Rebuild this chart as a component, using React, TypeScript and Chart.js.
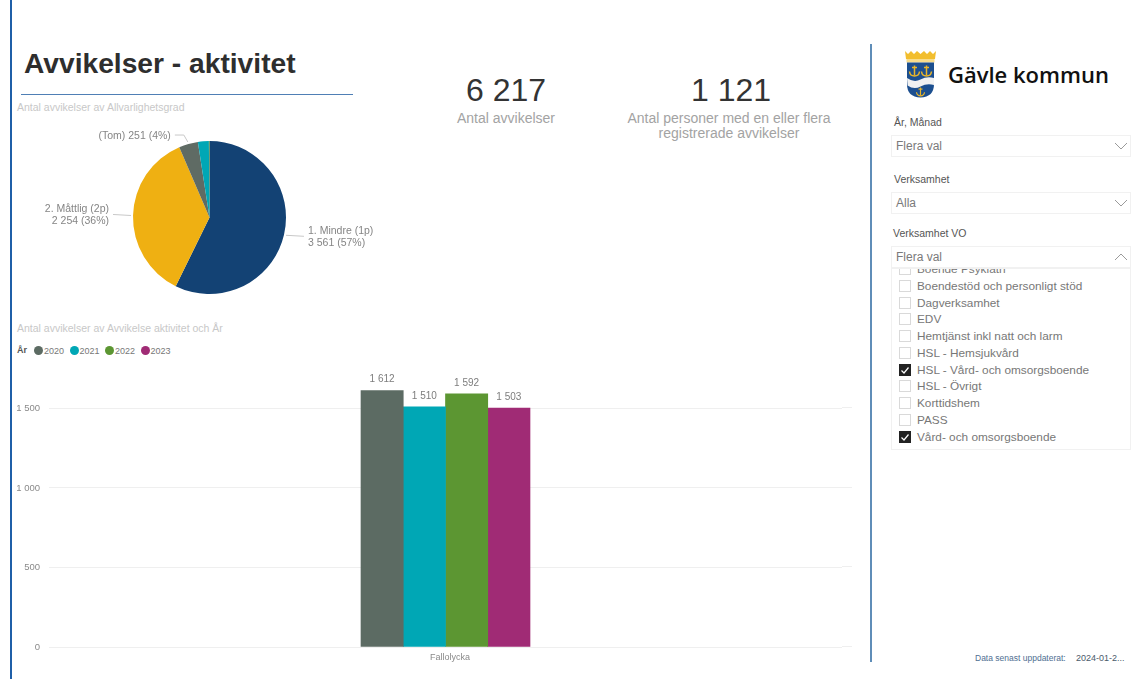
import React, { useEffect, useRef } from "react";
import { Chart, registerables } from "chart.js";

Chart.register(...registerables);

// Severity breakdown
const severityNames = ["1. Mindre (1p)", "2. Måttlig (2p)", "(Tom)", "", ""];
const severityValues = [3561, 2254, 251, 143, 8];
const severityColors = ["#134274", "#EFB012", "#5F6B64", "#00A7B5", "#5C9632"];

// Activity per year
const activityCategories = ["Fallolycka"];
const years = ["2020", "2021", "2022", "2023"];
const values2020 = [1612];
const values2021 = [1510];
const values2022 = [1592];
const values2023 = [1503];
const yearValues = [values2020, values2021, values2022, values2023];
const yearColors = ["#5C6B63", "#00A7B5", "#5C9632", "#A02B75"];
const yTicks = [0, 500, 1000, 1500];

// Slicer content
const unitRows = [
  "Boende Psykiatri",
  "Boendestöd och personligt stöd",
  "Dagverksamhet",
  "EDV",
  "Hemtjänst inkl natt och larm",
  "HSL - Hemsjukvård",
  "HSL - Vård- och omsorgsboende",
  "HSL - Övrigt",
  "Korttidshem",
  "PASS",
  "Vård- och omsorgsboende",
];
const checkedRows = ["HSL - Vård- och omsorgsboende", "Vård- och omsorgsboende"];

const SANS = '"Liberation Sans", Arial, sans-serif';
const spaced = (v: number) => String(v).replace(/\B(?=(\d{3})+$)/g, " ");

// Outside labels with elbow leader lines, anchored on each slice's mid angle
const pieLabels = {
  id: "pieLabels",
  afterDatasetsDraw(chart: any) {
    const { ctx } = chart;
    const meta = chart.getDatasetMeta(0);
    const total = severityValues.reduce((a, b) => a + b, 0);
    ctx.save();
    ctx.font = `10.5px ${SANS}`;
    ctx.textBaseline = "middle";
    meta.data.forEach((arc: any, i: number) => {
      const name = severityNames[i];
      if (!name) return;
      const mid = (arc.startAngle + arc.endAngle) / 2;
      const sx = arc.x + (arc.outerRadius + 2) * Math.cos(mid);
      const sy = arc.y + (arc.outerRadius + 2) * Math.sin(mid);
      const right = Math.cos(mid) > 0;
      const steep = Math.abs(Math.sin(mid)) > 0.9;
      const ex = steep ? sx - 13 : sx + (right ? 18 : -18);
      const ey = steep ? sy - 7 : sy + (right ? 1 : -1);
      ctx.strokeStyle = "#c8c8c8";
      ctx.lineWidth = 1;
      ctx.beginPath();
      ctx.moveTo(sx, sy);
      if (steep) ctx.lineTo(sx - 4, ey);
      ctx.lineTo(ex, ey);
      ctx.stroke();
      const pct = `${spaced(severityValues[i])} (${Math.round((severityValues[i] / total) * 100)}%)`;
      ctx.fillStyle = "#858585";
      ctx.textAlign = right ? "left" : "right";
      const tx = ex + (right ? 4 : -4);
      if (steep) {
        ctx.fillText(`${name} ${pct}`, tx, ey + 1);
      } else {
        ctx.fillText(name, tx, ey - 5);
        ctx.fillText(pct, tx, ey + 7);
      }
    });
    ctx.restore();
  },
};

// Value captions above the bars, plus the short run of gridline past the plot's right edge
const barLabels = {
  id: "barLabels",
  afterDatasetsDraw(chart: any) {
    const { ctx, chartArea, scales } = chart;
    ctx.save();
    ctx.strokeStyle = "#efefef";
    ctx.lineWidth = 1;
    yTicks.forEach((t) => {
      const y = Math.round(scales.y.getPixelForValue(t)) - 0.5;
      ctx.beginPath();
      ctx.moveTo(chartArea.right, y);
      ctx.lineTo(chartArea.right + 10, y);
      ctx.stroke();
    });
    ctx.font = `10px ${SANS}`;
    ctx.fillStyle = "#7d7d7d";
    ctx.textAlign = "center";
    ctx.textBaseline = "middle";
    chart.data.datasets.forEach((ds: any, i: number) => {
      chart.getDatasetMeta(i).data.forEach((bar: any, j: number) => {
        ctx.fillText(spaced(ds.data[j]), bar.x, bar.y - 11);
      });
    });
    ctx.restore();
  },
};

function PieCard() {
  const ref = useRef<HTMLCanvasElement>(null);
  useEffect(() => {
    const chart = new Chart(ref.current!, {
      type: "pie",
      data: {
        labels: severityNames,
        datasets: [{ data: severityValues, backgroundColor: severityColors, borderWidth: 0 }],
      },
      options: {
        animation: false,
        responsive: false,
        layout: { padding: { top: 21, bottom: 21, left: 80, right: 80 } },
        plugins: { legend: { display: false }, tooltip: { enabled: false } },
      },
      plugins: [pieLabels],
    } as any);
    return () => chart.destroy();
  }, []);
  return <canvas ref={ref} width={399} height={195} style={{ position: "absolute", left: 10, top: 120 }} />;
}

function BarCard() {
  const ref = useRef<HTMLCanvasElement>(null);
  useEffect(() => {
    const chart = new Chart(ref.current!, {
      type: "bar",
      data: {
        labels: activityCategories,
        datasets: years.map((y, i) => ({
          label: y,
          data: yearValues[i],
          backgroundColor: yearColors[i],
          barThickness: 42.25,
        })),
      },
      options: {
        animation: false,
        responsive: false,
        layout: { padding: { top: 2, right: 28, left: 0, bottom: 0 } },
        scales: {
          x: {
            grid: { display: false, drawTicks: false },
            border: { display: false },
            ticks: { color: "#8a8a8a", font: { size: 9, family: SANS }, padding: 5, labelOffset: 4.5, maxRotation: 0 },
            afterFit: (s: any) => { s.height = 32; },
          },
          y: {
            min: 0,
            max: 1750,
            afterBuildTicks: (s: any) => { s.ticks = yTicks.map((value) => ({ value })); },
            grid: { color: "#efefef", drawTicks: false },
            border: { display: false },
            ticks: {
              color: "#8a8a8a",
              font: { size: 9.5, family: SANS },
              padding: 9,
              callback: (v: any) => spaced(Number(v)),
            },
            afterFit: (s: any) => { s.width = 49; },
          },
        },
        plugins: { legend: { display: false }, tooltip: { enabled: false } },
      },
      plugins: [barLabels],
    } as any);
    return () => chart.destroy();
  }, []);
  return <canvas ref={ref} width={870} height={325} style={{ position: "absolute", left: 0, top: 354 }} />;
}

function Txt(p: {
  x: number; y: number; size: number; color: string; children: React.ReactNode;
  align?: "left" | "center" | "right"; weight?: number; family?: string;
}) {
  const align = p.align ?? "left";
  const shift = align === "center" ? "translateX(-50%)" : align === "right" ? "translateX(-100%)" : undefined;
  return (
    <div style={{
      position: "absolute", left: p.x, top: p.y - 10, height: 20, lineHeight: "20px",
      fontSize: p.size, color: p.color, fontWeight: p.weight ?? 400, fontFamily: p.family ?? SANS,
      whiteSpace: "nowrap", transform: shift,
    }}>{p.children}</div>
  );
}

function Rect(p: { x: number; y: number; w: number; h: number; bg?: string; border?: string }) {
  return (
    <div style={{
      position: "absolute", left: p.x, top: p.y, width: p.w, height: p.h, boxSizing: "border-box",
      background: p.bg, border: p.border ? `1px solid ${p.border}` : undefined,
    }} />
  );
}

function Dropdown({ y, text, open }: { y: number; text: string; open?: boolean }) {
  const pts = open ? "0,6 6,0 12,6" : "0,0 6,6 12,0";
  return (
    <>
      <Rect x={891} y={y} w={240} h={22} bg="#fff" border="#f1f1f1" />
      <Txt x={896} y={y + 11} size={12} color="#7a7a7a">{text}</Txt>
      <svg width={13} height={8} style={{ position: "absolute", left: 1115, top: y + 8 }}>
        <polyline points={pts} fill="none" stroke="#9a9a9a" strokeWidth={1} />
      </svg>
    </>
  );
}

function Crest() {
  const anchor = (x: number, y: number, s: number) => (
    <g transform={`translate(${x} ${y}) scale(${s})`} stroke="#E9B52A" strokeWidth={1.5} fill="none">
      <line x1={0} y1={-5} x2={0} y2={5} />
      <line x1={-2.5} y1={-3} x2={2.5} y2={-3} />
      <path d="M-5 1 Q-4.5 5.5 0 5.5 Q4.5 5.5 5 1" />
    </g>
  );
  return (
    <svg width={31} height={48} viewBox="0 0 31 48" style={{ position: "absolute", left: 905, top: 50 }}>
      <path d="M0 1 L3 4 L6 1 L9 4 L12 1 L15.5 4 L19 1 L22 4 L25 1 L28 4 L31 1 L30 9 L1 9 Z" fill="#F2BE2E" />
      <rect x={1.5} y={9} width={28} height={3.5} fill="#F7DC8C" />
      <path d="M2 12.5 H29 V34 Q29 47 15.5 47.5 Q2 47 2 34 Z" fill="#1C4F8F" />
      <path d="M2 28 Q9 33 15.5 29.5 Q22 26 29 28 V35 Q22 33 15.5 36.5 Q9 40 2.6 35.5 Z" fill="#F1F1F1" />
      {anchor(9.5, 20.5, 1)}
      {anchor(21.5, 20.5, 1)}
      {anchor(15.5, 41.5, 0.8)}
    </svg>
  );
}

export default function App() {
  return (
    <div style={{ position: "absolute", left: 0, top: 0, width: 1131, height: 679, background: "#fff", overflow: "hidden", fontFamily: SANS }}>
      <Rect x={10} y={0} w={1.5} h={679} bg="#1F5FA8" />
      <Rect x={870} y={44} w={1.5} h={618} bg="#5F8DB8" />

      <Txt x={24} y={63} size={28.2} weight={700} color="#2e2e2e">Avvikelser - aktivitet</Txt>
      <Rect x={21} y={94} w={332} h={1} bg="#4F7FB5" />

      <Txt x={17} y={107} size={10.5} color="#c8c8c8">Antal avvikelser av Allvarlighetsgrad</Txt>
      <PieCard />

      <Txt x={506} y={90} size={32} align="center" color="#333">6 217</Txt>
      <Txt x={506} y={118} size={14} align="center" color="#a3a3a3">Antal avvikelser</Txt>
      <Txt x={731} y={90} size={32} align="center" color="#333">1 121</Txt>
      <Txt x={729} y={118} size={14} align="center" color="#a3a3a3">Antal personer med en eller flera</Txt>
      <Txt x={729} y={133} size={14} align="center" color="#a3a3a3">registrerade avvikelser</Txt>

      <Txt x={17} y={328} size={10.5} color="#c8c8c8">Antal avvikelser av Avvikelse aktivitet och År</Txt>
      <Txt x={17} y={350} size={9} weight={700} color="#555">År</Txt>
      {years.map((y, i) => (
        <React.Fragment key={y}>
          <div style={{ position: "absolute", left: 34 + i * 35.5, top: 346, width: 9, height: 9, borderRadius: "50%", background: yearColors[i] }} />
          <Txt x={44 + i * 35.5} y={351} size={9} color="#777">{y}</Txt>
        </React.Fragment>
      ))}
      <BarCard />

      <Crest />
      <Txt x={948} y={74} size={22} weight={600} color="#111" family='"Open Sans", sans-serif'>Gävle kommun</Txt>

      <Txt x={894} y={122} size={10.5} color="#555">År, Månad</Txt>
      <Dropdown y={135} text="Flera val" />
      <Txt x={894} y={179} size={10.5} color="#555">Verksamhet</Txt>
      <Dropdown y={192} text="Alla" />
      <Txt x={893} y={233} size={10.5} color="#555">Verksamhet VO</Txt>

      {/* Open list; its first row is scrolled partly out of view */}
      <div style={{ position: "absolute", left: 891, top: 268, width: 240, height: 182, boxSizing: "border-box", border: "1px solid #f1f1f1", overflow: "hidden" }}>
        {unitRows.map((row, i) => {
          const checked = checkedRows.includes(row);
          const top = i * 16.75 - 8;
          return (
            <React.Fragment key={row}>
              <div style={{
                position: "absolute", left: 7, top: top + 2, width: 12, height: 12, boxSizing: "border-box",
                background: checked ? "#222" : "#fff", border: checked ? "none" : "1px solid #d9d9d9",
              }}>
                {checked && (
                  <svg width={12} height={12} style={{ display: "block" }}>
                    <polyline points="2.5,6.5 5,9 9.5,3.5" fill="none" stroke="#fff" strokeWidth={1.2} />
                  </svg>
                )}
              </div>
              <div style={{
                position: "absolute", left: 25, top, height: 16, lineHeight: "16px", fontSize: 11.8,
                color: "#777", whiteSpace: "nowrap",
              }}>{row}</div>
            </React.Fragment>
          );
        })}
      </div>
      <Dropdown y={246} text="Flera val" open />

      <Txt x={975} y={658} size={8.5} color="#4F6F92">Data senast uppdaterat:</Txt>
      <Txt x={1076} y={658} size={9} color="#4a5a6a">2024-01-2...</Txt>
    </div>
  );
}
